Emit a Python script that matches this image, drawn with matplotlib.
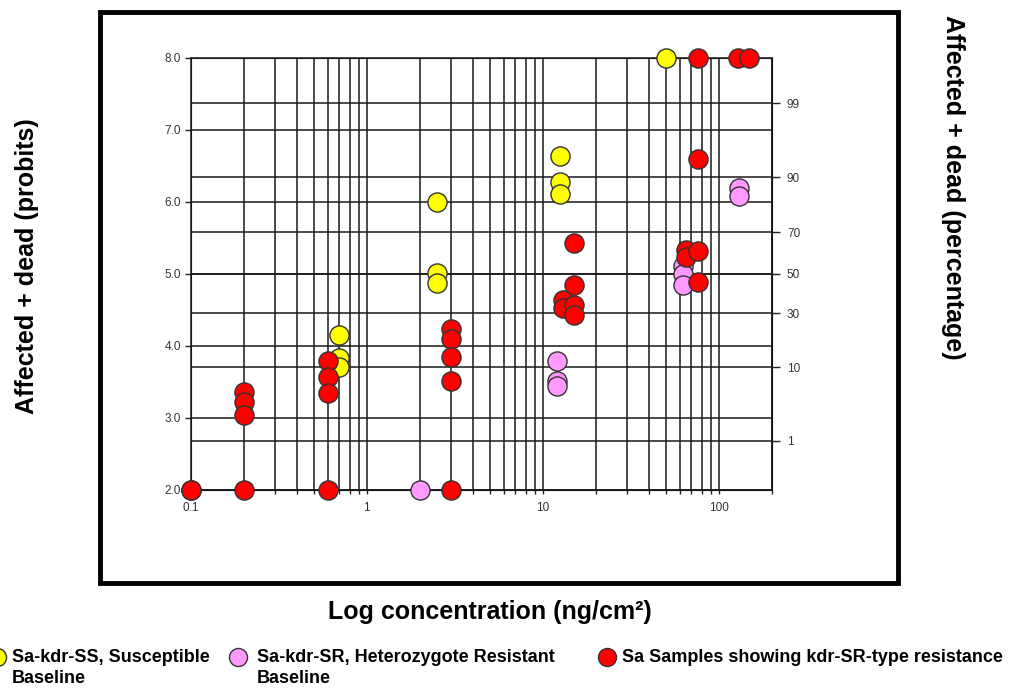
import matplotlib
matplotlib.use("Agg")
import matplotlib.pyplot as plt
from matplotlib.patches import Rectangle
from matplotlib.lines import Line2D

plt.rcParams["font.family"] = ["Liberation Sans", "DejaVu Sans"]

# Sa-kdr-SS, susceptible baseline (yellow)
ss_conc = [0.1, 0.7, 0.7, 0.7, 2.5, 2.5, 2.5, 12.6, 12.6, 12.6, 50]
ss_probit = [2.0, 4.15, 3.83, 3.70, 6.0, 5.01, 4.87, 6.64, 6.27, 6.11, 8.0]

# Sa-kdr-SR, heterozygote resistant baseline (violet)
sr_conc = [2.0, 12.0, 12.0, 12.0, 63, 63, 63, 131, 131]
sr_probit = [2.0, 3.78, 3.51, 3.44, 5.11, 4.99, 4.84, 6.19, 6.08]

# Sa samples showing kdr-SR-type resistance (red)
sa_conc = [0.1, 0.2, 0.2, 0.2, 0.2, 0.6, 0.6, 0.6, 0.6,
           3.0, 3.0, 3.0, 3.0, 3.0,
           15, 15, 13, 13, 15, 15,
           65, 65, 76, 76, 76, 76, 128, 148]
sa_probit = [2.0, 3.36, 3.22, 3.03, 2.0, 3.78, 3.57, 3.34, 2.0,
             4.23, 4.09, 3.84, 3.51, 2.0,
             5.43, 4.85, 4.63, 4.52, 4.57, 4.42,
             5.33, 5.23, 5.31, 4.89, 6.59, 8.0, 8.0, 8.0]

# percentage scale on the right, placed at the probit lines in the chart
pct_labels = ["1", "10", "30", "50", "70", "90", "99"]
pct_probit = [2.68, 3.70, 4.45, 5.0, 5.58, 6.34, 7.37]

x_ticks = [0.1, 1, 10, 100]
x_ticklabels = ["0.1", "1", "10", "100"]
y_ticks = [2.0, 3.0, 4.0, 5.0, 6.0, 7.0, 8.0]

fig = plt.figure(figsize=(10.24, 6.88), dpi=100)
ax = fig.add_axes([0.1862, 0.2885, 0.5674, 0.6272])

ax.set_xscale("log")
ax.set_xlim(0.1, 200)
ax.set_ylim(2, 8)

ax.set_xticks(x_ticks)
ax.set_xticklabels(x_ticklabels)
ax.set_yticks(y_ticks)
ax.set_yticklabels([f"{v:.1f}" for v in y_ticks])
ax.tick_params(axis="both", which="both", direction="out", colors="#222222",
               labelsize=8.5, width=1.0, labelcolor="#333333")
ax.tick_params(axis="x", which="both", length=3, pad=6)
ax.tick_params(axis="y", length=4, pad=3)
ax.grid(True, which="both", axis="x", color="#1a1a1a", lw=1.1)
ax.grid(True, which="major", axis="y", color="#1a1a1a", lw=1.1)
for s in ax.spines.values():
    s.set_color("#1a1a1a")
    s.set_linewidth(1.1)

ax2 = ax.twinx()
ax2.set_ylim(2, 8)
ax2.set_yticks(pct_probit)
ax2.set_yticklabels(pct_labels)
ax2.tick_params(axis="y", direction="out", length=6, pad=5, width=1.0,
                colors="#222222", labelsize=8.5, labelcolor="#333333")
ax2.grid(True, axis="y", color="#1a1a1a", lw=1.1)
ax2.set_zorder(0)
ax.set_zorder(1)
ax.patch.set_visible(False)

mk = dict(s=190, edgecolors="#333333", linewidths=1.0, zorder=5, clip_on=False)
ax.scatter(ss_conc, ss_probit, c="#ffff00", **mk)
ax.scatter(sr_conc, sr_probit, c="#ff99ff", **mk)
ax.scatter(sa_conc, sa_probit, c="#ff0000", **mk)

# outer frame
fig.add_artist(Rectangle((100 / 1024, 1 - 583 / 688), 798 / 1024, 571 / 688,
                         transform=fig.transFigure, fill=False,
                         lw=3.5, edgecolor="black"))

fig.text(0.026, 0.613, "Affected + dead (probits)", rotation=90,
         ha="center", va="center", fontsize=18, fontweight="bold")
fig.text(0.931, 0.7275, "Affected + dead (percentage)", rotation=-90,
         ha="center", va="center", fontsize=18, fontweight="bold")
fig.text(0.4785, 0.1105, "Log concentration (ng/cm²)",
         ha="center", va="center", fontsize=18, fontweight="bold")

# legend along the bottom
legend_items = [
    ("#ffff00", -3, 12, "Sa-kdr-SS, Susceptible\nBaseline"),
    ("#ff99ff", 238, 257, "Sa-kdr-SR, Heterozygote Resistant\nBaseline"),
    ("#ff0000", 607, 622, "Sa Samples showing kdr-SR-type resistance"),
]
for color, mx, tx, label in legend_items:
    fig.add_artist(Line2D([mx / 1024], [1 - 657 / 688], marker="o",
                          markersize=13, markerfacecolor=color,
                          markeredgecolor="#333333", markeredgewidth=1.0,
                          linestyle="none", transform=fig.transFigure))
    fig.text(tx / 1024, 1 - 649 / 688, label, ha="left", va="top",
             fontsize=13, fontweight="bold", linespacing=1.3)

fig.savefig("out.png", dpi=100)
